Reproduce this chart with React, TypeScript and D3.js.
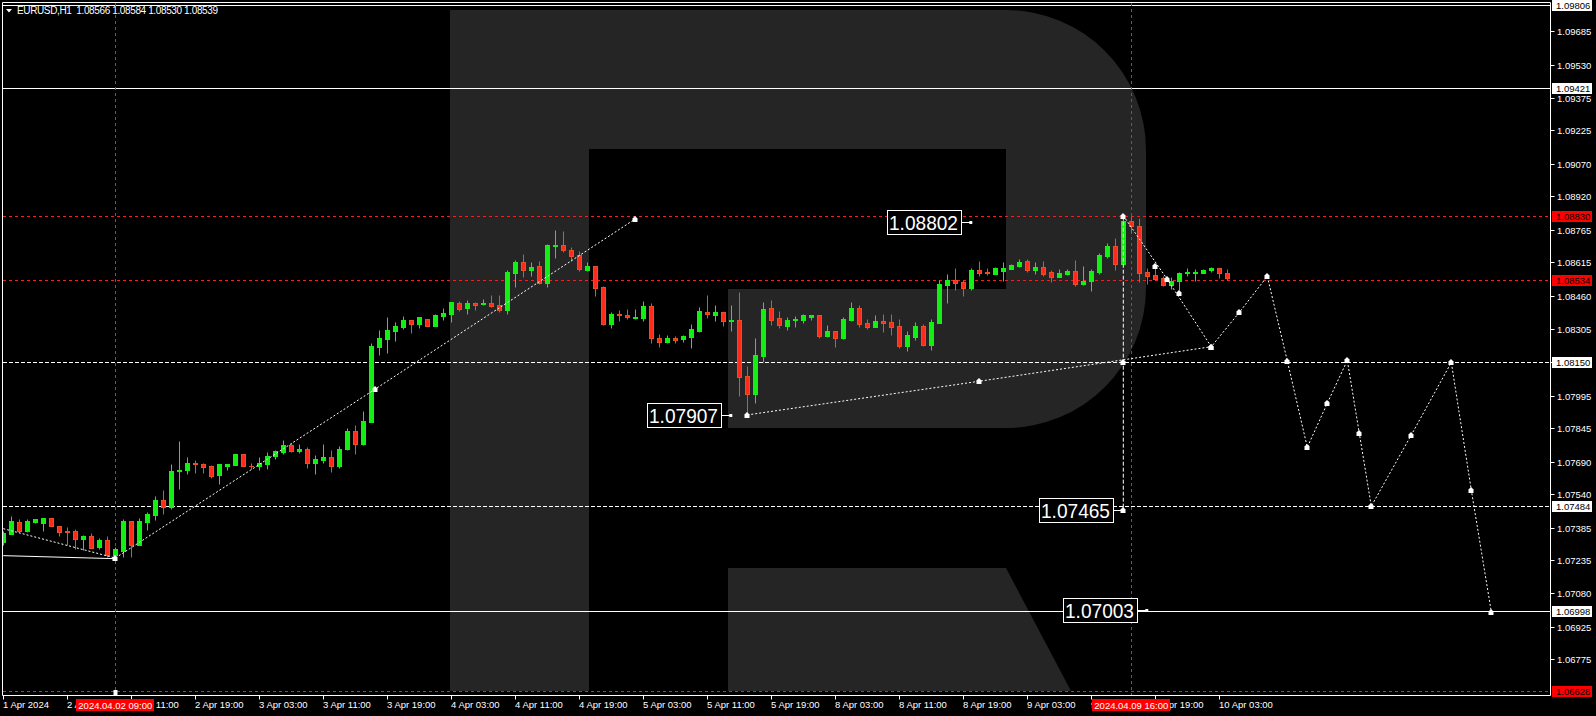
import * as d3 from 'd3';

// EURUSD H1, one bar per hour starting 1 Apr 19:00 (bar 0)
const opens = [
  1.0732, 1.07357, 1.07411, 1.07371, 1.07411, 1.07406, 1.07429, 1.07392, 1.07369, 1.07369,
  1.07334, 1.07346, 1.07295, 1.07328, 1.0726, 1.07277, 1.07416, 1.07306, 1.07412, 1.07443,
  1.07513, 1.07482, 1.07646, 1.07652, 1.07686, 1.07678, 1.0767, 1.0763, 1.07672, 1.07676,
  1.07726, 1.07672, 1.07672, 1.07681, 1.07718, 1.07737, 1.07766, 1.07741, 1.07749, 1.07686,
  1.07698, 1.07711, 1.07672, 1.07751, 1.07832, 1.07774, 1.07876, 1.08223, 1.0826, 1.08297,
  1.08316, 1.08345, 1.0833, 1.0835, 1.0832, 1.08367, 1.08376, 1.08424, 1.08402, 1.08425,
  1.08421, 1.08425, 1.08415, 1.08393, 1.08564, 1.08615, 1.0858, 1.08597, 1.0852, 1.08691,
  1.08694, 1.08671, 1.08646, 1.08578, 1.08597, 1.085, 1.08328, 1.08374, 1.0837, 1.08356,
  1.08357, 1.08411, 1.08263, 1.08246, 1.08263, 1.0826, 1.08269, 1.08295, 1.08384, 1.08371,
  1.08384, 1.08342, 1.08346, 1.08087, 1.08005, 1.08181, 1.08402, 1.08356, 1.0832, 1.08345,
  1.08346, 1.08362, 1.0837, 1.08274, 1.08295, 1.08265, 1.08346, 1.08402, 1.08333, 1.08316,
  1.08342, 1.08337, 1.08319, 1.08226, 1.08268, 1.08319, 1.08231, 1.08333, 1.0851, 1.08531,
  1.08523, 1.08494, 1.08579, 1.08571, 1.08562, 1.08574, 1.08585, 1.08599, 1.0862, 1.08579,
  1.08593, 1.08569, 1.08548, 1.0856, 1.08574, 1.08515, 1.08529, 1.08569, 1.08644, 1.0869,
  1.08608, 1.08806, 1.08783, 1.08569, 1.08556, 1.08542, 1.08509, 1.08526, 1.08565, 1.08565,
  1.08566, 1.0858, 1.08588, 1.08566,
];
const highs = [
  1.07369, 1.07439, 1.07425, 1.07425, 1.07425, 1.07429, 1.07429, 1.07392, 1.07388, 1.07378,
  1.07351, 1.0736, 1.07337, 1.07346, 1.07297, 1.07425, 1.07416, 1.07429, 1.07457, 1.07531,
  1.07559, 1.0768, 1.07786, 1.07712, 1.07698, 1.07683, 1.07675, 1.0768, 1.0768, 1.07726,
  1.07726, 1.07684, 1.07712, 1.07735, 1.07744, 1.07791, 1.07775, 1.07772, 1.0776, 1.07721,
  1.07772, 1.07743, 1.07761, 1.07845, 1.0786, 1.07925, 1.08239, 1.083, 1.08361, 1.08337,
  1.08365, 1.08345, 1.08359, 1.0835, 1.08374, 1.08402, 1.0843, 1.08435, 1.08439, 1.0843,
  1.08442, 1.08462, 1.08462, 1.08578, 1.08625, 1.08652, 1.08615, 1.0862, 1.087, 1.08764,
  1.08759, 1.08685, 1.08666, 1.08615, 1.08597, 1.08504, 1.08384, 1.08393, 1.08396, 1.08398,
  1.08435, 1.08424, 1.08282, 1.08277, 1.08274, 1.08277, 1.08328, 1.08407, 1.08462, 1.08417,
  1.08384, 1.08416, 1.08476, 1.08133, 1.08263, 1.0843, 1.08439, 1.08388, 1.0836, 1.08365,
  1.08376, 1.0837, 1.0837, 1.08323, 1.08295, 1.0836, 1.0843, 1.08417, 1.08351, 1.0837,
  1.08374, 1.08376, 1.08351, 1.08295, 1.08337, 1.08329, 1.08351, 1.08532, 1.0856, 1.08588,
  1.08531, 1.08586, 1.0862, 1.08588, 1.08594, 1.08616, 1.08607, 1.0863, 1.0863, 1.08616,
  1.0862, 1.08579, 1.08583, 1.08583, 1.08625, 1.08597, 1.08583, 1.08659, 1.08704, 1.08727,
  1.0883, 1.08828, 1.0882, 1.08588, 1.08588, 1.08551, 1.08545, 1.08569, 1.08588, 1.08583,
  1.08583, 1.08594, 1.08588, 1.08584,
];
const lows = [
  1.07304, 1.07357, 1.07366, 1.07366, 1.07406, 1.07371, 1.07394, 1.07348, 1.07303, 1.07287,
  1.0728, 1.07292, 1.07287, 1.07249, 1.07244, 1.0725, 1.0725, 1.07306, 1.07375, 1.07422,
  1.07446, 1.07473, 1.07565, 1.07635, 1.07639, 1.07636, 1.07616, 1.07589, 1.07652, 1.07676,
  1.07672, 1.07658, 1.07653, 1.07655, 1.07704, 1.07726, 1.07737, 1.07729, 1.07663, 1.07635,
  1.07686, 1.07644, 1.0766, 1.07743, 1.07724, 1.07768, 1.07876, 1.08185, 1.08195, 1.08251,
  1.08307, 1.08288, 1.08311, 1.08317, 1.0832, 1.08347, 1.08339, 1.0839, 1.08376, 1.08393,
  1.08416, 1.08405, 1.08385, 1.08374, 1.08501, 1.08546, 1.0855, 1.08513, 1.085, 1.08635,
  1.08663, 1.0862, 1.08575, 1.08575, 1.08458, 1.08323, 1.08311, 1.08342, 1.0835, 1.08351,
  1.08342, 1.08241, 1.08221, 1.08241, 1.08241, 1.08246, 1.08217, 1.08291, 1.08357, 1.08343,
  1.0832, 1.08295, 1.07994, 1.07907, 1.07964, 1.08153, 1.08325, 1.08309, 1.083, 1.08316,
  1.08334, 1.08348, 1.08265, 1.08269, 1.08223, 1.0826, 1.08342, 1.08316, 1.08306, 1.08316,
  1.08291, 1.08277, 1.08218, 1.08204, 1.08255, 1.08228, 1.08209, 1.08333, 1.08427, 1.08486,
  1.08458, 1.08486, 1.08551, 1.08554, 1.0856, 1.08526, 1.08583, 1.08594, 1.08571, 1.0856,
  1.08552, 1.08523, 1.08546, 1.08554, 1.08505, 1.08511, 1.08483, 1.0856, 1.08634, 1.08579,
  1.08606, 1.08749, 1.08525, 1.08515, 1.08532, 1.08505, 1.08489, 1.08486, 1.08551, 1.08529,
  1.08565, 1.08571, 1.08542, 1.0853,
];
const closes = [
  1.07358, 1.07416, 1.07371, 1.07416, 1.07425, 1.07429, 1.07394, 1.07366, 1.07366, 1.07334,
  1.07348, 1.07292, 1.07328, 1.0726, 1.07286, 1.07417, 1.07304, 1.07416, 1.07449, 1.07514,
  1.07482, 1.07647, 1.0765, 1.07684, 1.07678, 1.07667, 1.07626, 1.0768, 1.0768, 1.07726,
  1.07672, 1.0767, 1.07684, 1.07717, 1.0774, 1.07768, 1.07741, 1.07749, 1.07686, 1.07703,
  1.07711, 1.07672, 1.07749, 1.07832, 1.07774, 1.07877, 1.08226, 1.08263, 1.083, 1.08319,
  1.08347, 1.0833, 1.08359, 1.0832, 1.0837, 1.08379, 1.0843, 1.08398, 1.08424, 1.08418,
  1.08425, 1.08411, 1.08395, 1.08569, 1.08615, 1.0858, 1.08592, 1.0852, 1.08694, 1.08694,
  1.08672, 1.08645, 1.08584, 1.08597, 1.08496, 1.0833, 1.08374, 1.08371, 1.08359, 1.08361,
  1.08411, 1.08262, 1.08246, 1.08263, 1.08255, 1.08272, 1.08305, 1.08388, 1.08373, 1.08384,
  1.08343, 1.08346, 1.08084, 1.08005, 1.08184, 1.08397, 1.08348, 1.08325, 1.08346, 1.08351,
  1.0837, 1.0837, 1.08274, 1.08295, 1.08265, 1.08351, 1.08402, 1.08329, 1.08316, 1.08342,
  1.08334, 1.08316, 1.08228, 1.08277, 1.08319, 1.08232, 1.08337, 1.08513, 1.08533, 1.08518,
  1.08497, 1.08579, 1.08566, 1.08563, 1.08588, 1.08588, 1.08602, 1.08616, 1.0858, 1.08593,
  1.08562, 1.08548, 1.08566, 1.08576, 1.08515, 1.08528, 1.08574, 1.08648, 1.0869, 1.08608,
  1.08806, 1.08784, 1.08566, 1.08552, 1.08537, 1.08509, 1.08528, 1.08565, 1.08571, 1.08571,
  1.0858, 1.08588, 1.08566, 1.08539,
];

const priceTicks = [
  1.09685, 1.0953, 1.09375, 1.09225, 1.0907, 1.0892, 1.08765, 1.08615, 1.0846, 1.08305,
  1.0815, 1.07995, 1.07845, 1.0769, 1.0754, 1.07385, 1.07235, 1.0708, 1.06925, 1.06775,
];

// one label every 8 bars, starting at bar 0
const timeLabels = [
  '1 Apr 2024', '2 Apr 03:00', '2 Apr 11:00', '2 Apr 19:00', '3 Apr 03:00', '3 Apr 11:00',
  '3 Apr 19:00', '4 Apr 03:00', '4 Apr 11:00', '4 Apr 19:00', '5 Apr 03:00', '5 Apr 11:00',
  '5 Apr 19:00', '8 Apr 03:00', '8 Apr 11:00', '8 Apr 19:00', '9 Apr 03:00', '9 Apr 11:00',
  '9 Apr 19:00', '10 Apr 03:00',
];

const solidLevels = [1.09806, 1.09421, 1.06998];
const whiteDashLevels = [1.0815, 1.07484];
const redDashLevels = [1.0883, 1.08534, 1.06628];

const cursorBars = [14, 141];
const cursorTexts = ['2024.04.02 09:00', '2024.04.09 16:00'];

type Pt = { i: number; p: number };

const trendSolid: Pt[] = [{ i: 0, p: 1.07255 }, { i: 14, p: 1.07241 }];
const forecastA: Pt[] = [
  { i: 0, p: 1.0738 }, { i: 14, p: 1.07244 }, { i: 46.5, p: 1.08027 }, { i: 79, p: 1.08815 },
];
const forecastB: Pt[] = [{ i: 93, p: 1.07907 }, { i: 122, p: 1.08063 }, { i: 151, p: 1.08223 }];
const forecastC: Pt[] = [
  { i: 140, p: 1.0883 }, { i: 145.5, p: 1.08535 }, { i: 151, p: 1.08223 },
  { i: 154.5, p: 1.08382 }, { i: 158, p: 1.08549 }, { i: 160.5, p: 1.08157 },
  { i: 163, p: 1.07757 }, { i: 165.5, p: 1.07961 }, { i: 168, p: 1.0816 },
  { i: 169.5, p: 1.07822 }, { i: 171, p: 1.07484 }, { i: 176, p: 1.07814 },
  { i: 181, p: 1.0815 }, { i: 183.5, p: 1.07559 }, { i: 186, p: 1.06995 },
];
const verticalGuide: Pt[] = [{ i: 140, p: 1.0883 }, { i: 140, p: 1.07465 }];
const extraMarks: Pt[] = [
  { i: 144, p: 1.08598 }, { i: 147, p: 1.08472 }, { i: 140, p: 1.0815 }, { i: 140, p: 1.07465 },
];

const boxLabels = [
  { text: '1.08802', i: 121, p: 1.08802 },
  { text: '1.07907', i: 91, p: 1.07907 },
  { text: '1.07465', i: 140, p: 1.07465 },
  { text: '1.07003', i: 143, p: 1.07003 },
];

const GREEN = '#12ef12';
const RED = '#ff2a1a';
const RED_EDGE = '#ec4f1f';
const FONT = '"Liberation Sans", Arial, sans-serif';

export default function App() {
  const width = 1596;
  const height = 716;
  const axisX = 1550.5;
  const bottom = 695.5;

  const x = d3.scaleLinear().domain([0, 1]).range([3.3, 11.3]);
  const y = d3.scaleLinear().domain([1.06628, 1.09806]).range([691, 5]);
  const sx = (i: number) => Math.round(x(i)) + 0.5;
  const sy = (p: number) => Math.round(y(p)) + 0.5;

  const line = d3
    .line<Pt>()
    .x((d) => x(d.i))
    .y((d) => y(d.p));

  const marker = (d: Pt, k: string) => (
    <polygon
      key={k}
      transform={`translate(${Math.round(x(d.i))},${Math.round(y(d.p))})`}
      points="-2.5,3 2.5,3 2.5,-0.5 0,-3 -2.5,-0.5"
      fill="#fff"
    />
  );

  const candles = opens.map((o, i) => {
    const c = closes[i];
    const bull = c >= o;
    const cx = sx(i);
    const top = Math.round(y(Math.max(o, c)));
    const bot = Math.round(y(Math.min(o, c)));
    const col = bull ? GREEN : RED_EDGE;
    return (
      <g key={i}>
        <line x1={cx} x2={cx} y1={sy(highs[i])} y2={sy(lows[i])} stroke={col} />
        {bot - top < 1 ? (
          <line x1={cx - 2.5} x2={cx + 2.5} y1={top + 0.5} y2={top + 0.5} stroke={col} />
        ) : (
          <rect
            x={cx - 2}
            y={top + 0.5}
            width={4}
            height={bot - top}
            fill={bull ? GREEN : RED}
            stroke={col}
          />
        )}
      </g>
    );
  });

  const rightBoxes = [
    ...solidLevels.map((p) => ({ p, bg: '#fff', fg: '#000' })),
    ...whiteDashLevels.map((p) => ({ p, bg: '#fff', fg: '#000' })),
    ...redDashLevels.map((p) => ({ p, bg: '#ff0000', fg: '#000' })),
  ];

  return (
    <svg
      width={width}
      height={height}
      style={{ position: 'absolute', left: 0, top: 0, background: '#000' }}
      fontFamily={FONT}
    >
      <defs>
        <clipPath id="plot">
          <rect x={3} y={3} width={1547} height={692} />
        </clipPath>
      </defs>
      <rect width={width} height={height} fill="#000" />

      <g clipPath="url(#plot)">
        {/* watermark */}
        <path
          d="M450,10 H1006 A140,140 0 0 1 1146,150 V288 A140,140 0 0 1 1006,428 H728 V289 H1006 V149 H589 V691 H450 Z"
          fill="#252525"
        />
        <path d="M728,568 H1006 L1071,691 H728 Z" fill="#252525" />

        {solidLevels.map((p) => (
          <line key={p} x1={0} x2={axisX} y1={sy(p)} y2={sy(p)} stroke="#fff" />
        ))}
        {whiteDashLevels.map((p) => (
          <line key={p} x1={3} x2={axisX} y1={sy(p)} y2={sy(p)} stroke="#fff" strokeDasharray="4,2" />
        ))}
        {redDashLevels.map((p) => (
          <line key={p} x1={3} x2={axisX} y1={sy(p)} y2={sy(p)} stroke="#ff1a1a" strokeDasharray="3,3" />
        ))}
        {cursorBars.map((i) => (
          <line key={i} x1={sx(i)} x2={sx(i)} y1={3} y2={bottom} stroke="#ff1a1a" strokeDasharray="3,3" />
        ))}

        {candles}

        <path d={line(trendSolid) ?? ''} fill="none" stroke="#fff" />
        {[forecastA, forecastB, forecastC].map((pts, k) => (
          <path key={k} d={line(pts) ?? ''} fill="none" stroke="#fff" strokeDasharray="2,2" />
        ))}
        <path d={line(verticalGuide) ?? ''} fill="none" stroke="#fff" strokeDasharray="4,2" />
        {forecastA.slice(1).map((d, k) => marker(d, `a${k}`))}
        {forecastB.map((d, k) => marker(d, `b${k}`))}
        {forecastC.map((d, k) => marker(d, `c${k}`))}
        {extraMarks.map((d, k) => marker(d, `e${k}`))}

        {boxLabels.map((b) => {
          const right = x(b.i) - 10;
          const cy = Math.round(y(b.p));
          return (
            <g key={b.text}>
              <rect x={Math.round(right - 74) + 0.5} y={cy - 11.5} width={74} height={24} fill="#000" stroke="#fff" />
              <text
                x={Math.round(right - 72)}
                y={cy + 8}
                fill="#fff"
                fontSize={21}
                textLength={69}
                lengthAdjust="spacingAndGlyphs"
              >
                {b.text}
              </text>
              <line x1={right} x2={x(b.i)} y1={cy + 0.5} y2={cy + 0.5} stroke="#fff" />
              <rect x={x(b.i) - 2} y={cy - 1} width={3} height={3} fill="#fff" />
            </g>
          );
        })}
        <rect x={sx(14) - 2} y={690} width={4} height={5} fill="#fff" />
      </g>

      {/* frame */}
      <line x1={2.5} x2={axisX} y1={2.5} y2={2.5} stroke="#fff" />
      <line x1={2.5} x2={2.5} y1={2.5} y2={bottom} stroke="#fff" />
      <line x1={axisX} x2={axisX} y1={2.5} y2={bottom} stroke="#fff" />
      <line x1={2.5} x2={axisX} y1={bottom} y2={bottom} stroke="#fff" />

      {/* header */}
      <polygon points="6,9 12,9 9,12.5" fill="#fff" />
      <text x={17} y={14} fill="#fff" fontSize={10} textLength={201} lengthAdjust="spacing" style={{ whiteSpace: 'pre' }}>
        {'EURUSD,H1  1.08566 1.08584 1.08530 1.08539'}
      </text>

      {/* price axis */}
      {priceTicks.map((p) => (
        <g key={p}>
          <line x1={axisX} x2={axisX + 4} y1={sy(p)} y2={sy(p)} stroke="#fff" />
          <text x={1557} y={Math.round(y(p)) + 4} fill="#fff" fontSize={9.5}>
            {p.toFixed(5)}
          </text>
        </g>
      ))}
      {rightBoxes.map((b) => (
        <g key={b.p}>
          <rect x={1552} y={Math.round(y(b.p)) - 5} width={40} height={11} fill={b.bg} />
          <text x={1556} y={Math.round(y(b.p)) + 4} fill={b.fg} fontSize={9.5}>
            {b.p.toFixed(5)}
          </text>
        </g>
      ))}

      {/* time axis */}
      {timeLabels.map((t, k) => (
        <g key={t}>
          <line x1={sx(k * 8)} x2={sx(k * 8)} y1={bottom} y2={bottom + 4} stroke="#fff" />
          <text x={Math.round(x(k * 8))} y={708} fill="#fff" fontSize={9.5}>
            {t}
          </text>
        </g>
      ))}
      {cursorBars.map((i, k) => (
        <g key={i}>
          <rect x={Math.round(x(i)) - 39} y={699} width={78} height={12} fill="#ff0000" />
          <text x={x(i)} y={708.5} fill="#fff" fontSize={9.5} textAnchor="middle">
            {cursorTexts[k]}
          </text>
        </g>
      ))}
    </svg>
  );
}
